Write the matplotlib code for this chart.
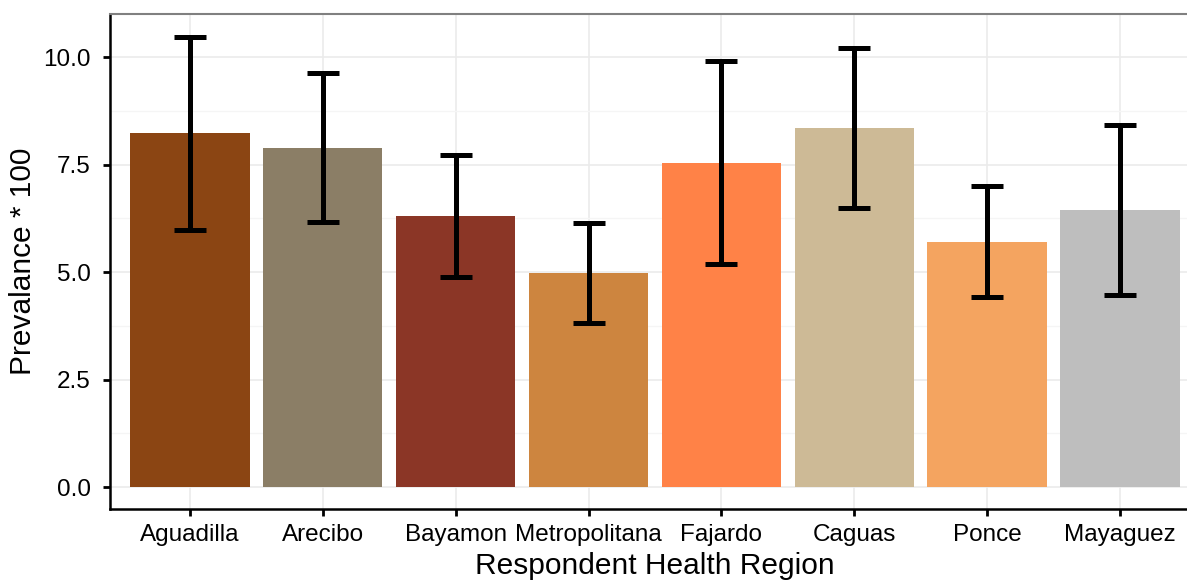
import matplotlib
matplotlib.use("Agg")
from matplotlib import pyplot as plt
from matplotlib.ticker import MultipleLocator

regions = ["Aguadilla", "Arecibo", "Bayamon", "Metropolitana",
           "Fajardo", "Caguas", "Ponce", "Mayaguez"]
prevalence = [8.23, 7.88, 6.30, 4.98, 7.53, 8.35, 5.70, 6.44]
upper = [10.47, 9.63, 7.72, 6.14, 9.91, 10.21, 7.00, 8.42]
lower = [5.98, 6.16, 4.88, 3.81, 5.19, 6.49, 4.42, 4.47]
colors = ["#8B4513", "#8B7E66", "#8B3626", "#CD853F",
          "#FF8247", "#CDBA96", "#F4A460", "#BEBEBE"]

plt.rcParams['font.family'] = ['Liberation Sans', 'DejaVu Sans']

fig = plt.figure(figsize=(11.87, 5.80), dpi=100)
W, H = 1187, 580
# panel runs past the right edge, as in the reference
ax = fig.add_axes([110 / W, (H - 509) / H, (1200 - 110) / W, (509 - 14) / H])

x = list(range(1, len(regions) + 1))
ax.bar(x, prevalence, width=0.9, color=colors, zorder=2)

err_lo = [p - l for p, l in zip(prevalence, lower)]
err_hi = [u - p for p, u in zip(prevalence, upper)]
ax.errorbar(x, prevalence, yerr=[err_lo, err_hi], fmt='none', ecolor='black',
            elinewidth=3.6, capsize=11.5, capthick=3.6, zorder=3)

ax.set_xlim(0.4, 8.6)
ax.set_ylim(-0.51, 11.0)
ax.set_xticks(x)
ax.set_xticklabels(regions)
ax.yaxis.set_minor_locator(MultipleLocator(1.25))
ax.set_yticks([0, 2.5, 5, 7.5, 10])
ax.set_yticklabels(["0.0", "2.5", "5.0", "7.5", "10.0"])

ax.grid(True, which='major', color='#EBEBEB', linewidth=1.2, zorder=0)
ax.grid(True, which='minor', axis='y', color='#F5F5F5', linewidth=1.0, zorder=0)
ax.set_axisbelow(True)

ax.spines['right'].set_visible(False)
ax.spines['top'].set_color('#808080')
ax.spines['top'].set_linewidth(1.5)
ax.spines['left'].set_linewidth(1.8)
ax.spines['bottom'].set_linewidth(1.8)

ax.tick_params(axis='both', which='major', length=5, width=2, color='black',
               labelsize=17.5, labelcolor='black')
ax.tick_params(axis='x', which='major', pad=6)
ax.tick_params(axis='y', which='major', pad=9)
ax.tick_params(axis='y', which='minor', length=0)

ax.set_xlabel("Respondent Health Region", fontsize=21.5, labelpad=4)
ax.set_ylabel("Prevalance * 100", fontsize=21.5, labelpad=4)

fig.savefig("out.png", dpi=100)
